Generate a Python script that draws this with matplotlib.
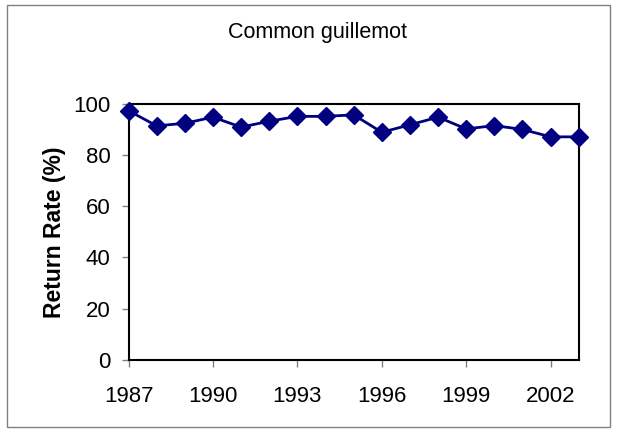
import matplotlib
matplotlib.use("Agg")
import matplotlib.pyplot as plt
from matplotlib.patches import Rectangle

plt.rcParams['font.family'] = ['Liberation Sans', 'DejaVu Sans']

# Data
years = [1987, 1988, 1989, 1990, 1991, 1992, 1993, 1994, 1995,
         1996, 1997, 1998, 1999, 2000, 2001, 2002, 2003]
return_rate = [97.3, 91.4, 92.4, 94.8, 90.9, 93.2, 95.1, 95.1, 95.7,
               88.9, 91.8, 94.8, 90.2, 91.5, 90.0, 87.1, 87.1]
x_ticks = [1987, 1990, 1993, 1996, 1999, 2002]
y_ticks = [0, 20, 40, 60, 80, 100]

fig = plt.figure(figsize=(6.21, 4.29), dpi=100)
ax = fig.add_axes([0.207, 0.161, 0.725, 0.597])

ax.plot(years, return_rate, color='#000080', linewidth=2,
        marker='D', markersize=9.5, markerfacecolor='#000080',
        markeredgecolor='#000080', clip_on=False, zorder=3)

ax.set_xlim(1987, 2003)
ax.set_ylim(0, 100)
ax.set_xticks(x_ticks)
ax.set_yticks(y_ticks)
ax.tick_params(axis='both', direction='out', labelsize=16, length=5,
               width=1, color='#808080')
ax.tick_params(axis='x', pad=14)
ax.tick_params(axis='y', pad=8)
for s in ax.spines.values():
    s.set_linewidth(1.5)
    s.set_color('black')

ax.set_ylabel('Return Rate (%)', fontsize=16.5, fontweight='bold')
ax.yaxis.set_label_coords(-0.14, 0.5)
fig.text(0.511, 0.925, 'Common guillemot', ha='center', va='center', fontsize=15.5)

# outer chart border
fig.patches.append(Rectangle((0.011, 0.005), 0.972, 0.983, transform=fig.transFigure,
                             fill=False, edgecolor='#808080', linewidth=1))

fig.savefig('out.png', dpi=100)
